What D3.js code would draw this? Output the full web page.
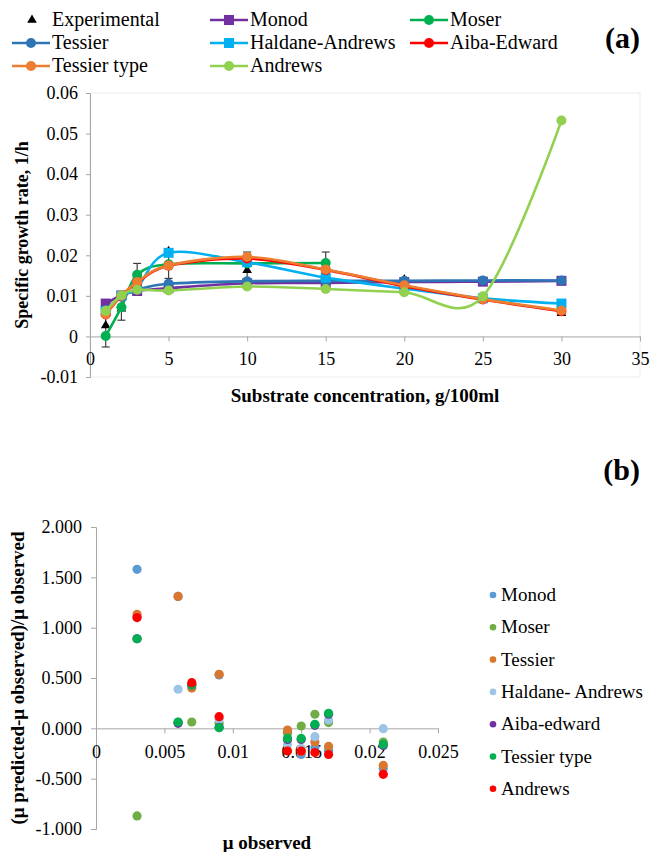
<!DOCTYPE html>
<html>
<head>
<meta charset="utf-8">
<script src="https://cdn.jsdelivr.net/npm/d3@7/dist/d3.min.js"></script>
<style>
    body { margin: 0; background: #fff; }
    svg text { font-family: "Liberation Serif", "Times New Roman", Times, "DejaVu Serif", serif; fill: #000; }
    .axis path, .axis line { stroke: #a6a6a6; }
</style>
</head>
<body>
<svg id="chart" width="651" height="852"></svg>
<script>
// ---- panel (a): specific growth rate vs substrate ----
var substrate = [1, 2, 3, 5, 10, 15, 20, 25, 30];
var experimental = [0.0027, 0.0068, 0.015, 0.021, 0.0163, 0.017, 0.014, 0.009, 0.0057];
var errPlus = [0.0053, 0.0028, 0.003, 0, 0.0045, 0.0038, 0.0005, 0.0005, 0.0005];
var errMinus = [0.0053, 0.0028, 0.003, 0.0067, 0.0045, 0.0038, 0.0005, 0.0005, 0.0005];
var monodA = [0.0081, 0.0101, 0.0112, 0.0119, 0.0131, 0.0132, 0.0134, 0.0135, 0.0137];
var moserA = [0.0001, 0.0072, 0.0152, 0.0178, 0.0180, 0.0181, null, null, null];
var tessierA = [0.0065, 0.0098, 0.0115, 0.0130, 0.0136, 0.0137, 0.0137, 0.0138, 0.0138];
var haldaneA = [0.0062, 0.0100, 0.0120, 0.0206, 0.0183, 0.0145, 0.0118, 0.0094, 0.0081];
var aibaA = [0.0054, 0.0100, 0.0132, 0.0174, 0.0192, 0.0164, 0.0124, 0.0091, 0.0062];
var tessierTypeA = [0.0055, 0.0101, 0.0134, 0.0175, 0.0196, 0.0165, 0.0126, 0.0092, 0.0064];
var andrewsA = [0.0063, 0.0101, 0.0115, 0.0113, 0.0123, 0.0117, 0.0109, 0.0099, 0.0532];

// ---- panel (b): relative error vs observed mu ----
var muObserved = [0.003, 0.006, 0.007, 0.009, 0.014, 0.015, 0.016, 0.017, 0.021];
var monodB = [1.58, 1.31, 0.44, 0.53, -0.04, -0.26, -0.19, -0.22, -0.40];
var moserB = [-0.87, 0.06, 0.063, 0.05, -0.05, 0.023, 0.14, 0.057, -0.136];
var tessierB = [1.133, 1.31, 0.40, 0.537, -0.017, -0.23, -0.136, -0.18, -0.368];
var haldaneB = [1.10, 0.388, 0.43, 0.09, -0.16, -0.20, -0.083, 0.083, -0.003];
var aibaB = [0.89, 0.05, 0.43, 0.01, -0.11, -0.11, 0.03, 0.14, -0.17];
var tessierTypeB = [0.89, 0.063, 0.43, 0.007, -0.10, -0.10, 0.04, 0.149, -0.16];
var andrewsB = [1.10, 7.87, 0.454, 0.116, -0.225, -0.225, -0.24, -0.26, -0.457];

var FONT = '"Liberation Serif", "Times New Roman", Times, "DejaVu Serif", serif';
var svg = d3.select('#chart');

// ================= (a) =================
var xA = d3.scaleLinear().domain([0, 35]).range([90, 640]);
var yA = d3.scaleLinear().domain([-0.01, 0.06]).range([377, 93]);

var modelsA = [
    { name: 'Monod', values: monodA, color: '#7030a0', marker: 'square' },
    { name: 'Moser', values: moserA, color: '#00b050', marker: 'circle' },
    { name: 'Tessier', values: tessierA, color: '#2e75b6', marker: 'circle' },
    { name: 'Haldane-Andrews', values: haldaneA, color: '#00b0f0', marker: 'square' },
    { name: 'Aiba-Edward', values: aibaA, color: '#ff0000', marker: 'circle' },
    { name: 'Tessier type', values: tessierTypeA, color: '#ed7d31', marker: 'circle' },
    { name: 'Andrews', values: andrewsA, color: '#92d050', marker: 'circle' }
];

// faint plot area border
svg.append('rect')
    .attr('x', xA(0)).attr('y', yA(0.06))
    .attr('width', xA(35) - xA(0)).attr('height', yA(-0.01) - yA(0.06))
    .attr('fill', 'none').attr('stroke', '#ececec');

svg.append('g')
    .attr('class', 'axis')
    .attr('transform', 'translate(' + xA(0) + ',0)')
    .call(d3.axisLeft(yA).ticks(7).tickSize(4).tickPadding(8)
        .tickFormat(function(d) { return d === 0 ? '0' : String(+d.toFixed(2)); }));

svg.append('g')
    .attr('class', 'axis')
    .attr('transform', 'translate(0,' + yA(0) + ')')
    .call(d3.axisBottom(xA).tickValues(d3.range(0, 36, 5)).tickSize(5).tickPadding(11).tickSizeOuter(0));

// experimental with error bars
var expPts = substrate.map(function(x, i) {
    return { x: x, y: experimental[i], up: errPlus[i], down: errMinus[i] };
});
var errG = svg.append('g').attr('stroke', '#404040').attr('stroke-width', 1.2);
expPts.forEach(function(p) {
    var top = p.y + p.up, bot = p.y - p.down;
    errG.append('line')
        .attr('x1', xA(p.x)).attr('x2', xA(p.x))
        .attr('y1', yA(top)).attr('y2', yA(bot));
    if (p.up > 0) {
        errG.append('line').attr('x1', xA(p.x) - 4).attr('x2', xA(p.x) + 4)
            .attr('y1', yA(top)).attr('y2', yA(top));
    }
    errG.append('line').attr('x1', xA(p.x) - 4).attr('x2', xA(p.x) + 4)
        .attr('y1', yA(bot)).attr('y2', yA(bot));
});
var triangle = d3.symbol().type(d3.symbolTriangle).size(40);
svg.append('g').selectAll('path')
    .data(expPts)
    .enter()
    .append('path')
    .attr('d', triangle)
    .attr('fill', '#000')
    .attr('transform', function(d) { return 'translate(' + xA(d.x) + ',' + yA(d.y) + ')'; });

var smooth = d3.line()
    .x(function(d) { return xA(d.x); })
    .y(function(d) { return yA(d.y); })
    .curve(d3.curveCardinal.tension(0));

function drawMarker(sel, type, color) {
    if (type === 'square') {
        sel.append('rect')
            .attr('x', -5).attr('y', -5).attr('width', 10).attr('height', 10)
            .attr('fill', color);
    } else {
        sel.append('circle').attr('r', 5).attr('fill', color);
    }
}

modelsA.forEach(function(m) {
    var pts = substrate.map(function(x, i) { return { x: x, y: m.values[i] }; })
        .filter(function(d) { return d.y !== null; });
    var g = svg.append('g');
    g.append('path')
        .attr('d', smooth(pts))
        .attr('fill', 'none')
        .attr('stroke', m.color)
        .attr('stroke-width', 2.6);
    pts.forEach(function(p) {
        var mk = g.append('g').attr('transform', 'translate(' + xA(p.x) + ',' + yA(p.y) + ')');
        drawMarker(mk, m.marker, m.color);
    });
});

// axis titles (a)
svg.append('text')
    .attr('x', (xA(0) + xA(35)) / 2).attr('y', 402)
    .attr('text-anchor', 'middle')
    .style('font-size', '19px').style('font-weight', 'bold')
    .text('Substrate concentration, g/100ml');
svg.append('text')
    .attr('transform', 'translate(28,' + (yA(0.06) + yA(-0.01)) / 2 + ') rotate(-90)')
    .attr('text-anchor', 'middle')
    .style('font-size', '18px').style('font-weight', 'bold')
    .text('Specific growth rate, 1/h');

// legend (a)
var legendA = [{ name: 'Experimental', marker: 'triangle', color: '#000' }].concat(modelsA);
legendA.forEach(function(m, i) {
    var col = i % 3, row = Math.floor(i / 3);
    var lx = [12, 210, 410][col], ly = [20, 43, 66][row];
    var g = svg.append('g').attr('transform', 'translate(' + lx + ',' + ly + ')');
    if (m.marker === 'triangle') {
        g.append('path').attr('d', triangle).attr('transform', 'translate(20,0)').attr('fill', '#000');
    } else {
        g.append('line').attr('x1', 0).attr('x2', 38).attr('y1', 0).attr('y2', 0)
            .attr('stroke', m.color).attr('stroke-width', 2.6);
        drawMarker(g.append('g').attr('transform', 'translate(19,0)'), m.marker, m.color);
    }
    g.append('text').attr('x', 40).attr('y', 6)
        .style('font-size', '20px')
        .text(m.name);
});

svg.append('text')
    .attr('x', 640).attr('y', 48)
    .attr('text-anchor', 'end')
    .style('font-size', '30px').style('font-weight', 'bold')
    .text('(a)');

// ================= (b) =================
var xB = d3.scaleLinear().domain([0, 0.025]).range([96, 438]);
var yB = d3.scaleLinear().domain([-1, 2]).range([829, 527]);

var modelsB = [
    { name: 'Monod', values: monodB, color: '#5b9bd5' },
    { name: 'Moser', values: moserB, color: '#70ad47' },
    { name: 'Tessier', values: tessierB, color: '#d9772f' },
    { name: 'Haldane- Andrews', values: haldaneB, color: '#9dc3e6' },
    { name: 'Aiba-edward', values: aibaB, color: '#7030a0' },
    { name: 'Tessier type', values: tessierTypeB, color: '#00b050' },
    { name: 'Andrews', values: andrewsB, color: '#ff0000' }
];

svg.append('g')
    .attr('class', 'axis')
    .attr('transform', 'translate(' + xB(0) + ',0)')
    .call(d3.axisLeft(yB).tickValues(d3.range(-1, 2.01, 0.5)).tickSize(5).tickPadding(9)
        .tickFormat(function(d) { return d.toFixed(3); }));

svg.append('g')
    .attr('class', 'axis')
    .attr('transform', 'translate(0,' + yB(0) + ')')
    .call(d3.axisBottom(xB).tickValues(d3.range(0, 0.0251, 0.005)).tickSize(5).tickPadding(12).tickSizeOuter(0)
        .tickFormat(function(d) { return String(+d.toFixed(3)); }));

// d3 axes set font-family on their group; put the serif face on tick labels directly
svg.selectAll('.axis').attr('font-family', null).attr('font-size', null);
svg.selectAll('.axis text').attr('font-size', 18);

modelsB.forEach(function(m) {
    svg.append('g').selectAll('circle')
        .data(muObserved.map(function(x, i) { return { x: x, y: m.values[i] }; })
            .filter(function(d) { return d.y >= -1 && d.y <= 2; }))
        .enter()
        .append('circle')
        .attr('cx', function(d) { return xB(d.x); })
        .attr('cy', function(d) { return yB(d.y); })
        .attr('r', 4.6)
        .attr('fill', m.color);
});

svg.append('text')
    .attr('x', (xB(0) + xB(0.025)) / 2).attr('y', 849)
    .attr('text-anchor', 'middle')
    .style('font-size', '19px').style('font-weight', 'bold')
    .text('μ observed');
svg.append('text')
    .attr('transform', 'translate(24,' + (yB(2) + yB(-1)) / 2 + ') rotate(-90)')
    .attr('text-anchor', 'middle')
    .style('font-size', '19px').style('font-weight', 'bold')
    .text('(μ predicted-μ observed)/μ observed');

// legend (b)
modelsB.forEach(function(m, i) {
    var g = svg.append('g').attr('transform', 'translate(493,' + (595 + i * 32.3) + ')');
    g.append('circle').attr('r', 3.3).attr('fill', m.color);
    g.append('text').attr('x', 8).attr('y', 6).style('font-size', '19px').text(m.name);
});

svg.append('text')
    .attr('x', 640).attr('y', 480)
    .attr('text-anchor', 'end')
    .style('font-size', '30px').style('font-weight', 'bold')
    .text('(b)');

svg.selectAll('text').style('font-family', FONT);
</script>
